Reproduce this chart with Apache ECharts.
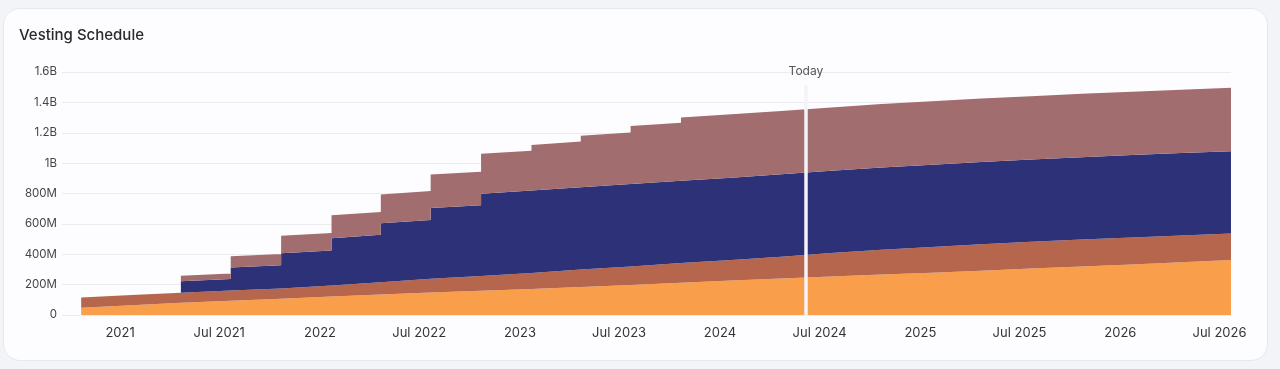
<!DOCTYPE html>
<html>
<head>
<meta charset="utf-8">
<script src="https://cdn.jsdelivr.net/npm/echarts@6/dist/echarts.min.js"></script>
<style>
  html, body { margin: 0; padding: 0; width: 1280px; height: 369px; background: #f3f4f8; overflow: hidden; }
  .card { position: absolute; left: 3px; top: 8px; width: 1265px; height: 353px; background: #fdfdff;
          border: 1px solid #e6e8f0; border-radius: 17px; box-sizing: border-box; }
  #chart { position: absolute; left: 0; top: 0; width: 1280px; height: 369px; }
</style>
</head>
<body>
<div class="card"></div>
<div id="chart"></div>
<script>
// Quarterly unlock boundaries (index 23 = end of schedule)
const boundaryDates = ['2020-10-22','2021-01-22','2021-04-22','2021-07-22','2021-10-22','2022-01-22',
  '2022-04-22','2022-07-22','2022-10-22','2023-01-22','2023-04-22','2023-07-22','2023-10-22',
  '2024-01-22','2024-04-22','2024-07-22','2024-10-22','2025-01-22','2025-04-22','2025-07-22',
  '2025-10-22','2026-01-22','2026-04-22','2026-07-22'];

// Layer values in millions of tokens at each boundary
const seriesNames = ['Orange', 'Brown', 'Navy', 'Mauve'];
const orangeValues = [48, 64, 80, 94, 107, 121, 135, 148, 159, 171, 184, 198, 213, 227, 240, 254, 266, 279, 292, 306, 319, 333, 347, 362];
const brownValues  = [68, 67, 67, 67, 68, 73, 81, 90, 98, 106, 115, 122, 129, 135, 144, 154, 164, 169, 174, 176, 178, 178, 177, 175];
const navyValues   = [0, 0, 76, 152, 231, 312, 388, 466, 542, 542, 542, 542, 542, 542, 542, 542, 542, 542, 542, 542, 542, 542, 542, 542];
const mauveValues  = [0, 0, 36, 74, 115, 150, 190, 221, 262, 301, 340, 382, 417, 417, 417, 417, 417, 417, 417, 417, 417, 417, 417, 417];
const seriesColors = ['#F99E4A', '#B5664D', '#2D3178', '#A26D6F'];
const seriesStepped = [false, false, true, true];

const xTickDates  = ['2021-01-01','2021-07-01','2022-01-01','2022-07-01','2023-01-01','2023-07-01',
  '2024-01-01','2024-07-01','2025-01-01','2025-07-01','2026-01-01','2026-07-01'];
const xTickLabels = ['2021','Jul 2021','2022','Jul 2022','2023','Jul 2023','2024','Jul 2024','2025','Jul 2025','2026','Jul 2026'];
const yTickValues = [0, 200, 400, 600, 800, 1000, 1200, 1400, 1600];
const yTickLabels = ['0', '200M', '400M', '600M', '800M', '1B', '1.2B', '1.4B', '1.6B'];

const xAxisStart = '2020-09-17';
const xAxisEnd = '2026-07-22';
const todayDate = '2024-06-06';
const todayLineTop = 1515;

const ts = s => Date.parse(s + 'T00:00:00Z');
const tickTs = xTickDates.map(ts);

function buildData(values, stepped) {
  const out = [];
  const n = boundaryDates.length;
  for (let i = 0; i < n; i++) {
    const t = ts(boundaryDates[i]);
    if (i > 0) out.push([t - 1000, stepped ? values[i - 1] : values[i]]);
    if (i < n - 1) out.push([t, values[i]]);
  }
  return out;
}

function xLabel(v) {
  const d = new Date(v);
  const key = Date.UTC(d.getUTCFullYear(), d.getUTCMonth(), d.getUTCDate());
  const i = tickTs.indexOf(key);
  if (i >= 0 && d.getUTCHours() === 0) return xTickLabels[i];
  const k2 = Date.UTC(d.getFullYear(), d.getMonth(), d.getDate());
  const j = tickTs.indexOf(k2);
  return (j >= 0 && d.getHours() === 0) ? xTickLabels[j] : '';
}

const layerValues = [orangeValues, brownValues, navyValues, mauveValues];
const series = layerValues.map((vals, k) => ({
  name: seriesNames[k],
  type: 'line',
  stack: 'total',
  symbol: 'none',
  showSymbol: false,
  lineStyle: { width: 0 },
  areaStyle: { color: seriesColors[k], opacity: 1 },
  itemStyle: { color: seriesColors[k] },
  emphasis: { disabled: true },
  data: buildData(vals, seriesStepped[k]),
  z: 2
}));

series[3].markLine = {
  silent: true,
  symbol: 'none',
  z: 10,
  lineStyle: { color: '#f3f3f9', width: 3.5, type: 'solid' },
  label: { show: true, position: 'end', formatter: 'Today', color: '#555', fontSize: 12,
           fontFamily: 'Inter', distance: 8 },
  data: [[{ coord: [ts(todayDate), 0] }, { coord: [ts(todayDate), todayLineTop] }]]
};

const chart = echarts.init(document.getElementById('chart'), null, { renderer: 'canvas' });
chart.setOption({
  animation: false,
  title: {
    text: 'Vesting Schedule', left: 19, top: 28, padding: 0,
    textStyle: { fontFamily: 'Inter', fontSize: 15, fontWeight: 500, color: '#2a2a2a' }
  },
  grid: { left: 62, right: 49, top: 72, bottom: 54, containLabel: false },
  xAxis: {
    type: 'time',
    min: ts(xAxisStart),
    max: ts(xAxisEnd),
    splitNumber: 12,
    axisLine: { show: false },
    axisTick: { show: false },
    splitLine: { show: false },
    axisLabel: {
      formatter: xLabel,
      hideOverlap: false,
      color: '#333', fontSize: 13, fontFamily: 'Inter', margin: 12
    }
  },
  yAxis: {
    type: 'value',
    min: 0, max: 1600, interval: 200,
    axisLine: { show: false },
    axisTick: { show: false },
    splitLine: { lineStyle: { color: '#ebecf2', width: 1 } },
    axisLabel: {
      formatter: v => { const i = yTickValues.indexOf(v); return i >= 0 ? yTickLabels[i] : ''; },
      color: '#444', fontSize: 11.5, fontFamily: 'Inter', margin: 5
    }
  },
  series: series
});
</script>
</body>
</html>
